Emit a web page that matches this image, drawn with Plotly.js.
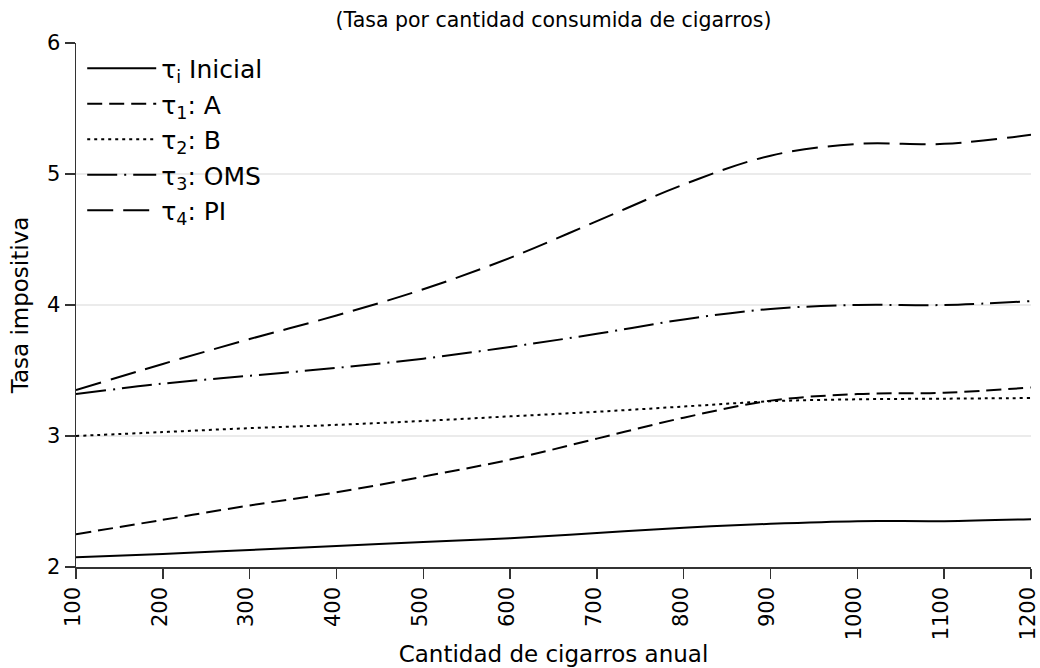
<!DOCTYPE html>
<html>
<head>
<meta charset="utf-8">
<script src="https://cdn.plot.ly/plotly-3.0.1.min.js"></script>
<style>html,body{margin:0;padding:0;background:#fff;}#chart{width:1040px;height:668px;}</style>
</head>
<body>
<div id="chart"></div>
<script>
const cantidad = [100, 200, 300, 400, 500, 600, 700, 800, 900, 1000, 1100, 1200];
const tauInicial = [2.075, 2.10, 2.13, 2.16, 2.19, 2.22, 2.26, 2.30, 2.33, 2.35, 2.35, 2.365];
const tauA = [2.25, 2.36, 2.47, 2.57, 2.69, 2.82, 2.98, 3.14, 3.27, 3.32, 3.33, 3.37];
const tauB = [3.00, 3.03, 3.06, 3.085, 3.115, 3.15, 3.185, 3.225, 3.265, 3.28, 3.285, 3.29];
const tauOMS = [3.32, 3.40, 3.46, 3.52, 3.59, 3.68, 3.78, 3.89, 3.97, 4.00, 4.00, 4.03];
const tauPI = [3.35, 3.55, 3.74, 3.92, 4.12, 4.36, 4.64, 4.92, 5.14, 5.23, 5.23, 5.30];
const seriesNames = ['τ<sub>i</sub> Inicial', 'τ<sub>1</sub>: A', 'τ<sub>2</sub>: B', 'τ<sub>3</sub>: OMS', 'τ<sub>4</sub>: PI'];
const xTicks = [100, 200, 300, 400, 500, 600, 700, 800, 900, 1000, 1100, 1200];
const yTicks = [2, 3, 4, 5, 6];

const FONT = 'DejaVu Sans, Verdana, sans-serif';
const seriesData = [tauInicial, tauA, tauB, tauOMS, tauPI];
const dashes = ['solid', '15px,7px', '3px,4px', '30px,7px,2px,7px', '26px,10px'];

const traces = seriesData.map((ys, i) => ({
  x: cantidad,
  y: ys,
  name: seriesNames[i],
  type: 'scatter',
  mode: 'lines',
  line: {color: '#000', width: 2, dash: dashes[i], shape: 'spline', smoothing: 1},
  hoverinfo: 'skip',
  cliponaxis: false
}));

const layout = {
  width: 1040,
  height: 668,
  margin: {l: 76, r: 9, t: 43, b: 101, pad: 0},
  paper_bgcolor: '#fff',
  plot_bgcolor: '#fff',
  font: {family: FONT, color: '#000', size: 18},
  title: {
    text: '(Tasa por cantidad consumida de cigarros)',
    font: {family: FONT, size: 20.5, color: '#000'},
    x: 0.5, xref: 'paper', xanchor: 'center',
    y: 0.97, yref: 'container', yanchor: 'middle'
  },
  showlegend: true,
  legend: {
    x: 0.0065, y: 0.995, xanchor: 'left', yanchor: 'top',
    bgcolor: 'rgba(0,0,0,0)',
    font: {family: FONT, size: 25, color: '#000'},
    itemwidth: 69,
    tracegroupgap: 0
  },
  xaxis: {
    range: [100, 1200],
    tickvals: xTicks,
    ticktext: xTicks.map(String),
    tickangle: -90,
    ticklabeloverflow: 'allow',
    ticklabelshift: -3,
    showgrid: false,
    zeroline: false,
    showline: true,
    linecolor: '#333',
    linewidth: 1.5,
    ticks: 'outside',
    ticklen: 10,
    tickwidth: 1.5,
    tickcolor: '#333',
    tickfont: {family: FONT, size: 21, color: '#000'},
    title: {text: 'Cantidad de cigarros anual', font: {family: FONT, size: 23, color: '#000'}, standoff: 6}
  },
  yaxis: {
    range: [2, 6],
    tickvals: yTicks,
    ticktext: yTicks.map(String),
    showgrid: true,
    gridcolor: '#ebebeb',
    gridwidth: 1.5,
    zeroline: false,
    showline: true,
    linecolor: '#333',
    linewidth: 1.5,
    ticks: 'outside',
    ticklen: 10,
    tickwidth: 1.5,
    tickcolor: '#333',
    tickfont: {family: FONT, size: 21, color: '#000'},
    title: {text: 'Tasa impositiva', font: {family: FONT, size: 23, color: '#000'}, standoff: 12}
  }
};

Plotly.newPlot('chart', traces, layout, {displayModeBar: false, staticPlot: true});
</script>
</body>
</html>
